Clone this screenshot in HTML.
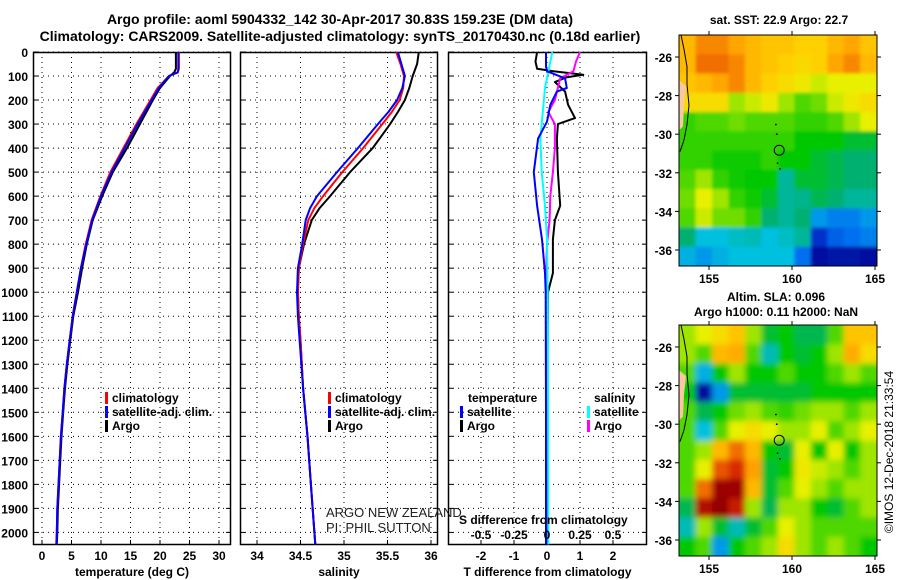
<!DOCTYPE html>
<html><head><meta charset="utf-8"><style>
body{margin:0;background:#fff;}
svg{display:block;font-family:"Liberation Sans",sans-serif;}
.b{font-weight:bold;font-size:12px;}
.t{font-weight:bold;font-size:14px;}
</style></head><body>
<svg id="fig" width="900" height="580" viewBox="0 0 900 580" xmlns="http://www.w3.org/2000/svg">
<defs>
<filter id="blur" x="-5%" y="-5%" width="110%" height="110%"><feGaussianBlur stdDeviation="3"/></filter>
<filter id="blur2" x="-5%" y="-5%" width="110%" height="110%"><feGaussianBlur stdDeviation="1.5"/></filter>
<clipPath id="clipSst"><rect x="679" y="35" width="198" height="231"/></clipPath>
<clipPath id="clipSla"><rect x="679" y="325" width="198" height="231"/></clipPath>
</defs>
<text class="t" x="340" y="24" text-anchor="middle">Argo profile: aoml 5904332_142 30-Apr-2017 30.83S 159.23E (DM data)</text>
<text class="t" x="340" y="41" text-anchor="middle">Climatology: CARS2009. Satellite-adjusted climatology: synTS_20170430.nc (0.18d earlier)</text>
</svg>
<script>
// ---------- DATA ----------
const depthTicks = [0,100,200,300,400,500,600,700,800,900,1000,1100,1200,1300,1400,1500,1600,1700,1800,1900,2000];
const tempTicks = [0,5,10,15,20,25,30];
const salTicks = [34,34.5,35,35.5,36];
const salTickLabels = ["34","34.5","35","35.5","36"];
const tdTicks = [-2,-1,0,1,2];
const sdTicks = [-0.5,-0.25,0,0.25,0.5];
const sdTickLabels = ["-0.5","-0.25","0","0.25","0.5"];

const depthT = [0,70,85,100,150,200,300,400,500,600,700,800,900,1000,1100,1200,1300,1400,1500,1600,1700,1800,1900,2000,2050];
const argoT = [22.7,22.7,22.4,21.7,20.0,18.8,16.6,14.4,12.0,10.2,8.6,7.6,6.8,6.1,5.3,4.8,4.3,3.9,3.6,3.3,3.1,2.9,2.7,2.6,2.5];
const climT = [23.2,23.2,23.0,21.5,19.6,18.4,16.0,13.8,11.6,9.9,8.4,7.4,6.6,5.9,5.2,4.7,4.2,3.8,3.5,3.2,3.0,2.8,2.6,2.5,2.4];
const satT  = [23.1,23.1,23.0,21.5,19.8,18.6,16.2,14.0,11.8,10.0,8.5,7.5,6.6,5.9,5.2,4.7,4.2,3.8,3.5,3.2,3.0,2.8,2.6,2.5,2.45];

const depthS = [0,50,100,150,200,250,300,400,500,600,650,700,800,900,1000,1100,1200,1400,1600,1800,2000,2050];
const argoS = [35.86,35.84,35.79,35.75,35.70,35.62,35.53,35.33,35.07,34.84,34.72,34.63,34.54,34.48,34.47,34.48,34.50,34.53,34.58,34.62,34.66,34.67];
const climS = [35.60,35.65,35.69,35.68,35.64,35.55,35.44,35.22,34.98,34.76,34.66,34.59,34.53,34.48,34.47,34.48,34.50,34.53,34.58,34.62,34.66,34.67];
const satS  = [35.62,35.66,35.70,35.67,35.61,35.51,35.39,35.16,34.92,34.69,34.61,34.56,34.52,34.47,34.46,34.47,34.49,34.53,34.58,34.62,34.66,34.67];

const depthArgoTd = [0,40,70,80,95,105,125,165,220,275,300,360,500,640,700,780,920,1000,1200,1500,1800,2050];
const argoTd = [-0.3,-0.35,-0.3,0.2,1.1,0.6,0.24,0.55,0.64,0.85,0.33,0.3,0.33,0.4,0.24,0.18,0.18,0.03,0.02,0.0,0.0,0.0];
const depthArgoSd = [0,40,80,110,200,250,300,400,500,600,700,800,900,1000];
const argoSd = [0.25,0.22,0.2,0.1,0.06,0.01,0.06,0.06,0.045,0.025,0.02,0.0,-0.005,-0.005];
const depthSatTd = [0,60,80,110,150,165,220,290,360,500,640,780,920,1000,1500,2050];
const satTd = [-0.03,-0.03,0.0,0.55,0.6,0.3,0.1,0.0,-0.27,-0.4,-0.3,-0.15,-0.06,-0.04,-0.03,-0.03];
const depthSatSd = [0,150,360,500,640,780,1000,1500,2050];
const satSd = [0.04,-0.015,-0.05,-0.04,-0.015,0.0,0.005,0.008,0.01];

const sstGrid = [
 [0.72,0.78,0.78,0.75,0.72,0.70,0.70,0.68,0.68,0.72,0.75,0.70],
 [0.72,0.80,0.80,0.78,0.72,0.70,0.68,0.66,0.68,0.75,0.78,0.72],
 [0.70,0.72,0.75,0.78,0.72,0.68,0.65,0.62,0.58,0.60,0.60,0.60],
 [0.65,0.65,0.65,0.55,0.58,0.62,0.55,0.50,0.52,0.58,0.62,0.65],
 [0.48,0.50,0.50,0.52,0.50,0.50,0.50,0.48,0.48,0.50,0.55,0.60],
 [0.48,0.48,0.48,0.48,0.48,0.48,0.48,0.45,0.45,0.45,0.42,0.42],
 [0.48,0.48,0.46,0.46,0.46,0.48,0.45,0.45,0.42,0.40,0.38,0.38],
 [0.50,0.55,0.48,0.46,0.45,0.45,0.35,0.42,0.42,0.40,0.38,0.38],
 [0.52,0.60,0.55,0.48,0.46,0.42,0.35,0.36,0.40,0.38,0.35,0.35],
 [0.50,0.58,0.52,0.52,0.48,0.38,0.35,0.38,0.25,0.22,0.22,0.25],
 [0.38,0.30,0.30,0.32,0.33,0.30,0.32,0.35,0.12,0.18,0.20,0.22],
 [0.28,0.25,0.28,0.30,0.30,0.30,0.30,0.20,0.05,0.06,0.06,0.05]];
const slaGrid = [
 [0.55,0.60,0.65,0.70,0.55,0.42,0.45,0.40,0.40,0.50,0.70,0.70],
 [0.55,0.50,0.72,0.74,0.50,0.33,0.45,0.42,0.45,0.55,0.74,0.65],
 [0.50,0.28,0.45,0.55,0.45,0.45,0.50,0.45,0.45,0.50,0.55,0.50],
 [0.45,0.05,0.25,0.42,0.42,0.42,0.42,0.42,0.45,0.45,0.45,0.45],
 [0.50,0.40,0.45,0.52,0.55,0.50,0.48,0.52,0.55,0.55,0.50,0.55],
 [0.50,0.30,0.50,0.60,0.65,0.60,0.55,0.55,0.60,0.50,0.55,0.60],
 [0.50,0.55,0.72,0.80,0.72,0.45,0.42,0.60,0.45,0.60,0.45,0.55],
 [0.50,0.60,0.82,0.86,0.76,0.42,0.45,0.62,0.58,0.55,0.50,0.55],
 [0.50,0.80,0.93,0.93,0.72,0.42,0.50,0.60,0.55,0.50,0.55,0.55],
 [0.40,0.90,0.95,0.88,0.55,0.40,0.55,0.55,0.45,0.42,0.50,0.55],
 [0.33,0.55,0.42,0.33,0.42,0.50,0.60,0.55,0.50,0.50,0.50,0.50],
 [0.45,0.50,0.25,0.45,0.50,0.55,0.65,0.55,0.50,0.55,0.50,0.45]];
const lonTicks = [155,160,165];
const latTicks = [-26,-28,-30,-32,-34,-36];
const floatLon = 159.23, floatLat = -30.83;

// ---------- HELPERS ----------
const NS = "http://www.w3.org/2000/svg";
const svg = document.getElementById("fig");
function el(tag, attrs, parent, txt){
  const e = document.createElementNS(NS, tag);
  for (const k in attrs) e.setAttribute(k, attrs[k]);
  if (txt !== undefined) e.textContent = txt;
  (parent || svg).appendChild(e);
  return e;
}
const top0 = 52, bot0 = 545;
const yD = d => top0 + d * 0.2402;
const xT = t => 42 + 5.9 * t;
const xS = s => 257 + 87 * (s - 34);
const xTd = t => 547 + 33 * t;
const xSd = s => 547 + 132 * s;

function panel(name, x0, x1, xticks, xfn, xlabels, showY, xtitle){
  const g = el("g", {});
  
  
  depthTicks.forEach(d => {
    const l = el("line", {x1:x0, x2:x1, y1:yD(d), y2:yD(d), stroke:"#000", "stroke-width":1, "stroke-dasharray":"1,4"}, g);
    
    
    el("line", {x1:x0, x2:x0+5, y1:yD(d), y2:yD(d), stroke:"#000"}, g);
    el("line", {x1:x1-5, x2:x1, y1:yD(d), y2:yD(d), stroke:"#000"}, g);
    if (showY){
      const tl = el("text", {x:28, y:yD(d)+5, "text-anchor":"end", class:"b"}, g, String(d));
      
      
    }
  });
  xticks.forEach((v,i) => {
    const x = xfn(v);
    const l = el("line", {x1:x, x2:x, y1:top0, y2:bot0, stroke:"#000", "stroke-dasharray":"1,4"}, g);
    
    
    el("line", {x1:x, x2:x, y1:bot0-5, y2:bot0, stroke:"#000"}, g);
    const tl = el("text", {x:x, y:560, "text-anchor":"middle", class:"b"}, g, xlabels[i]);
    
    
  });
  const fr = el("rect", {x:x0+0.5, y:top0+0.5, width:x1-x0-1, height:bot0-top0-1, fill:"none", stroke:"#000", "stroke-width":1.5}, g);
  
  
  const tt = el("text", {x:(x0+x1)/2, y:576, "text-anchor":"middle", class:"b"}, g, xtitle);
  
  
  return g;
}
function series(g, name, depths, vals, xfn, color, w){
  const pts = depths.map((d,i) => xfn(vals[i]).toFixed(1) + "," + yD(d).toFixed(1)).join(" ");
  const p = el("polyline", {points:pts, fill:"none", stroke:color, "stroke-width":w||2, "stroke-linejoin":"round"}, g);
  
  
}
function legendEntry(g, name, x, y, color, label){
  const e = el("g", {}, g);
  
  
  el("rect", {x:x, y:y-10, width:3, height:12, fill:color}, e);
  el("text", {x:x+7, y:y, class:"b"}, e, label);
}

// ---------- PANEL 1 ----------
const g1 = panel("temperature-panel", 33, 231, tempTicks, xT, tempTicks.map(String), true, "temperature (deg C)");
series(g1, "argo-temperature-line", depthT, argoT, xT, "#000");
series(g1, "climatology-temperature-line", depthT, climT, xT, "#f00");
series(g1, "satellite-temperature-line", depthT, satT, xT, "#00f");
legendEntry(g1, "legend-climatology", 105, 402, "#f00", "climatology");
legendEntry(g1, "legend-satellite-adj", 105, 416, "#00f", "satellite-adj. clim.");
legendEntry(g1, "legend-argo", 105, 430, "#000", "Argo");

// ---------- PANEL 2 ----------
const g2 = panel("salinity-panel", 240, 438, salTicks, xS, salTickLabels, false, "salinity");
series(g2, "argo-salinity-line", depthS, argoS, xS, "#000");
series(g2, "climatology-salinity-line", depthS, climS, xS, "#f00");
series(g2, "satellite-salinity-line", depthS, satS, xS, "#00f");
legendEntry(g2, "legend-climatology-sal", 328, 402, "#f00", "climatology");
legendEntry(g2, "legend-satellite-adj-sal", 328, 416, "#00f", "satellite-adj. clim.");
legendEntry(g2, "legend-argo-sal", 328, 430, "#000", "Argo");
const pi1 = el("text", {x:326, y:517, "font-size":"13px", fill:"#222"}, g2, "ARGO NEW ZEALAND");


const pi2 = el("text", {x:326, y:532, "font-size":"13px", fill:"#222"}, g2, "PI: PHIL SUTTON");



// ---------- PANEL 3 ----------
const g3 = panel("difference-panel", 448, 647, tdTicks, xTd, tdTicks.map(String), false, "T difference from climatology");
series(g3, "argo-temp-diff-line", depthArgoTd, argoTd, xTd, "#000");
series(g3, "argo-sal-diff-line", depthArgoSd, argoSd, xSd, "#f0f");
series(g3, "sat-sal-diff-line", depthSatSd, satSd, xSd, "#0ff");
series(g3, "sat-temp-diff-line", depthSatTd, satTd, xTd, "#00f");
const lt = el("text", {x:468, y:402, class:"b"}, g3, "temperature");


legendEntry(g3, "legend-temp-satellite", 460, 416, "#00f", "satellite");
legendEntry(g3, "legend-temp-argo", 460, 430, "#000", "Argo");
const ls = el("text", {x:594, y:402, class:"b"}, g3, "salinity");


legendEntry(g3, "legend-sal-satellite", 587, 416, "#0ff", "satellite");
legendEntry(g3, "legend-sal-argo", 587, 430, "#f0f", "Argo");
const st = el("text", {x:459, y:524, class:"b"}, g3, "S difference from climatology");


sdTicks.forEach((v,i) => {
  const t = el("text", {x:xSd(v), y:539, "text-anchor":"middle", class:"b"}, g3, sdTickLabels[i]);
  
  
});

// ---------- MAPS ----------
const stops = [[0,"#000080"],[0.1,"#0020c0"],[0.2,"#0070f0"],[0.3,"#00c0e0"],[0.38,"#00b070"],[0.45,"#00c800"],[0.53,"#80e000"],[0.6,"#e8f000"],[0.68,"#ffd000"],[0.76,"#ffa000"],[0.85,"#e03000"],[0.92,"#a00000"],[1,"#800000"]];
function cmap(v){
  for (let i=1;i<stops.length;i++){
    if (v <= stops[i][0]){
      const [a,ca] = stops[i-1], [b,cb] = stops[i];
      const f = (v-a)/(b-a);
      const p = c => [1,3,5].map(k => parseInt(c.substr(k,2),16));
      const A = p(ca), B = p(cb);
      return "rgb(" + A.map((x,j)=>Math.round(x+(B[j]-x)*f)).join(",") + ")";
    }
  }
  return stops[stops.length-1][1];
}
const lonMin = 153.2, lonMax = 165.1, latMax = -24.86, latMin = -36.83;
const xL = lon => 709 + 16.6 * (lon - 155);
function drawMap(name, grid, topY, botY, labels, clipId, filterId){
  const yL = lat => topY + (latMax - lat) / (latMax - latMin) * (botY - topY);
  const g = el("g", {});
  
  
  const cg = el("g", {"clip-path":"url(#"+clipId+")"}, g);
  const cells = el("g", {filter:"url(#"+filterId+")"}, cg);
  const nr = grid.length, nc = grid[0].length;
  grid.forEach((row, r) => row.forEach((v, c) => {
    const lon0 = lonMin + (lonMax-lonMin)*c/nc, lon1 = lonMin + (lonMax-lonMin)*(c+1)/nc;
    const la0 = latMax - (latMax-latMin)*r/nr, la1 = latMax - (latMax-latMin)*(r+1)/nr;
    let x0 = xL(lon0), x1 = xL(lon1), y0 = yL(la0), y1 = yL(la1);
    if (c === 0) x0 -= 15; if (c === nc-1) x1 += 15;
    if (r === 0) y0 -= 15; if (r === nr-1) y1 += 15;
    const cell = el("rect", {x:x0, y:y0, width:x1-x0+0.5, height:y1-y0+0.5, fill:cmap(v)}, cells);
    
    
  }));
  const land = el("path", {d:`M679,${yL(-27.2)} L686,${yL(-27.5)} L684,${yL(-28.5)} L683,${yL(-29.6)} L679,${yL(-29.8)} Z`, fill:"#f8c8a0"}, g);
  
  
  const coast = el("path", {d:`M681,${topY} L684,${yL(-25.6)} L687,${yL(-26.5)} L687,${yL(-27.4)} L689,${yL(-28.5)} L687,${yL(-29.5)} L684,${yL(-30.3)} L680,${yL(-30.9)}`, fill:"none", stroke:"#000", "stroke-width":1}, g);
  
  
  const fx = xL(floatLon), fy = yL(floatLat);
  const circ = el("circle", {cx:fx, cy:fy, r:5, fill:"none", stroke:"#000", "stroke-width":1}, g);
  
  
  [[-0.2,-29.5],[-0.15,-30.0],[-0.1,-31.5],[0.05,-31.8]].forEach(([dl,la]) => {
    const dt = el("circle", {cx:fx+dl*16.6, cy:yL(la), r:0.9, fill:"#000"}, g);
    
    
  });
  const fr = el("rect", {x:679, y:topY, width:198, height:botY-topY, fill:"none", stroke:"#000", "stroke-width":1}, g);
  
  
  lonTicks.forEach(lon => {
    el("line", {x1:xL(lon), x2:xL(lon), y1:topY, y2:topY-4, stroke:"#000"}, g);
    el("line", {x1:xL(lon), x2:xL(lon), y1:botY, y2:botY+4, stroke:"#000"}, g);
    const t = el("text", {x:xL(lon), y:botY+17, "text-anchor":"middle", class:"b", "font-size":"13px"}, g, String(lon));
    
    
  });
  latTicks.forEach(lat => {
    el("line", {x1:679, x2:675, y1:yL(lat), y2:yL(lat), stroke:"#000"}, g);
    el("line", {x1:877, x2:881, y1:yL(lat), y2:yL(lat), stroke:"#000"}, g);
    const t = el("text", {x:672, y:yL(lat)+5, "text-anchor":"end", class:"b"}, g, String(lat));
    
    
  });
  labels.forEach(([x,y,s]) => {
    const t = el("text", {x:x, y:y, "text-anchor":"middle", class:"b"}, g, s);
    
    
  });
}
drawMap("sst-map", sstGrid, 35, 266, [[779,24,"sat. SST: 22.9 Argo: 22.7"]], "clipSst", "blur2");
drawMap("sla-map", slaGrid, 325, 556, [[776,301,"Altim. SLA: 0.096"],[776,316,"Argo h1000: 0.11 h2000: NaN"]], "clipSla", "blur");
const cp = el("text", {x:0, y:0, "font-size":"12px", "text-anchor":"middle", transform:"translate(893,452) rotate(-90)"});
cp.textContent = "\u00a9IMOS 12-Dec-2018 21:33:54";


</script>
</body></html>
